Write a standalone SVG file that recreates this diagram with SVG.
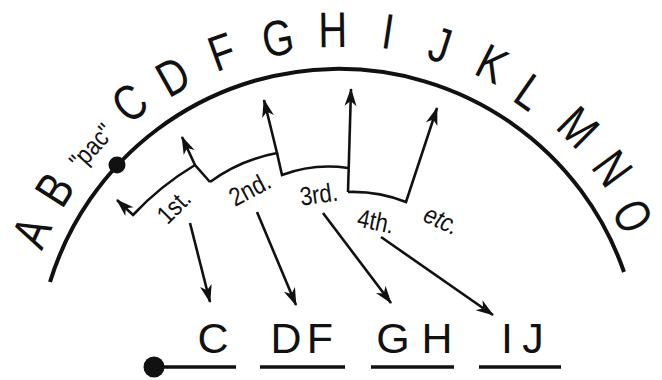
<svg xmlns="http://www.w3.org/2000/svg" width="662" height="380" viewBox="0 0 662 380">
<style>
.big{font-family:"Liberation Sans",Arial,sans-serif;font-size:50px;fill:#111;text-anchor:middle}
.low{font-family:"Liberation Sans",Arial,sans-serif;font-size:43px;fill:#111;text-anchor:middle}
.lbl{font-family:"Liberation Sans",Arial,sans-serif;font-size:26px;fill:#111;text-anchor:middle}
.ln{fill:none;stroke:#111;stroke-width:2.6;stroke-linejoin:miter}
.ul{stroke:#111;stroke-width:3.5}
</style>
<defs>
<marker id="ah" viewBox="-18 -7 19 14" refX="0" refY="0" markerWidth="19" markerHeight="14" orient="auto" markerUnits="userSpaceOnUse">
<path d="M1,0 L-17,-6 L-12,0 L-17,6 Z" fill="#111"/>
</marker>
</defs>
<g id="alphabet-arc">
<path d="M50,282 A302,302 0 0 1 624,272" fill="none" stroke="#111" stroke-width="4"/>
<circle cx="117" cy="165" r="8.5" fill="#111"/>
</g>
<g id="arc-letters">
<text class="big" transform="rotate(-65.7 337 370) translate(337 52) scale(0.8 1)">A</text>
<text class="big" transform="rotate(-57.4 337 370) translate(337 52) scale(0.8 1)">B</text>
<text class="lbl" transform="rotate(-47.7 337 370) translate(337 47) scale(0.85 1)">"pac"</text>
<text class="big" transform="rotate(-37.8 337 370) translate(337 49) scale(0.8 1)">C</text>
<text class="big" transform="rotate(-29.2 337 370) translate(337 51) scale(0.8 1)">D</text>
<text class="big" transform="rotate(-19.9 337 370) translate(337 49) scale(0.8 1)">F</text>
<text class="big" transform="rotate(-10.1 337 370) translate(337 50) scale(0.8 1)">G</text>
<text class="big" transform="rotate(-0.7 337 370) translate(337 47) scale(0.8 1)">H</text>
<text class="big" transform="rotate(8.6 337 370) translate(337 45) scale(0.8 1)">I</text>
<text class="big" transform="rotate(17.6 337 370) translate(337 46) scale(0.8 1)">J</text>
<text class="big" transform="rotate(26.9 337 370) translate(337 44) scale(0.8 1)">K</text>
<text class="big" transform="rotate(34.8 337 370) translate(337 49) scale(0.8 1)">L</text>
<text class="big" transform="rotate(44.8 337 370) translate(337 45) scale(0.8 1)">M</text>
<text class="big" transform="rotate(53.8 337 370) translate(337 46) scale(0.8 1)">N</text>
<text class="big" font-size="47" transform="rotate(62.5 337 370) translate(337 54) scale(0.74 1)">O</text>
</g>
<g id="connectors">
<path class="ln" d="M195,165 Q160,186 133,215 L117,200" marker-end="url(#ah)"/>
<path class="ln" d="M210,182 L195,165 L182,137" marker-end="url(#ah)"/>
<path class="ln" d="M210,182 Q240,160 277,153 L264,100" marker-end="url(#ah)"/>
<path class="ln" d="M277,153 L282,175 Q314,163 348,168"/>
<path class="ln" d="M348,192 L351,89" marker-end="url(#ah)"/>
<path class="ln" d="M348,192 Q378,191 406,202 L437,108" marker-end="url(#ah)"/>
<path class="ln" d="M190,223 L210,302" marker-end="url(#ah)"/>
<path class="ln" d="M257,212 L296,305" marker-end="url(#ah)"/>
<path class="ln" d="M323,213 L391,303" marker-end="url(#ah)"/>
<path class="ln" d="M381,237 L493,315" marker-end="url(#ah)"/>
</g>
<g id="step-labels">
<text class="lbl" transform="translate(180 213) rotate(-45) scale(0.85 1)">1st.</text>
<text class="lbl" transform="translate(254 197) rotate(-28) scale(0.85 1)">2nd.</text>
<text class="lbl" transform="translate(320 203) rotate(-8) scale(0.85 1)">3rd.</text>
<text class="lbl" transform="translate(374 230) rotate(12) scale(0.85 1)">4th.</text>
<text class="lbl" font-style="italic" transform="translate(438 228) rotate(25) scale(0.85 1)">etc.</text>
</g>
<g id="result-row">
<circle cx="154" cy="367" r="10.5" fill="#111"/>
<line class="ul" x1="154" y1="367" x2="236" y2="367"/>
<line class="ul" x1="260" y1="367" x2="345" y2="367"/>
<line class="ul" x1="371" y1="367" x2="454" y2="367"/>
<line class="ul" x1="479" y1="367" x2="561" y2="367"/>
<text class="low" x="213" y="353">C</text>
<text class="low" x="286" y="353">D</text>
<text class="low" x="320" y="353">F</text>
<text class="low" x="393" y="353">G</text>
<text class="low" x="437" y="353">H</text>
<text class="low" x="507" y="353">I</text>
<text class="low" x="533" y="353">J</text>
</g>
</svg>
